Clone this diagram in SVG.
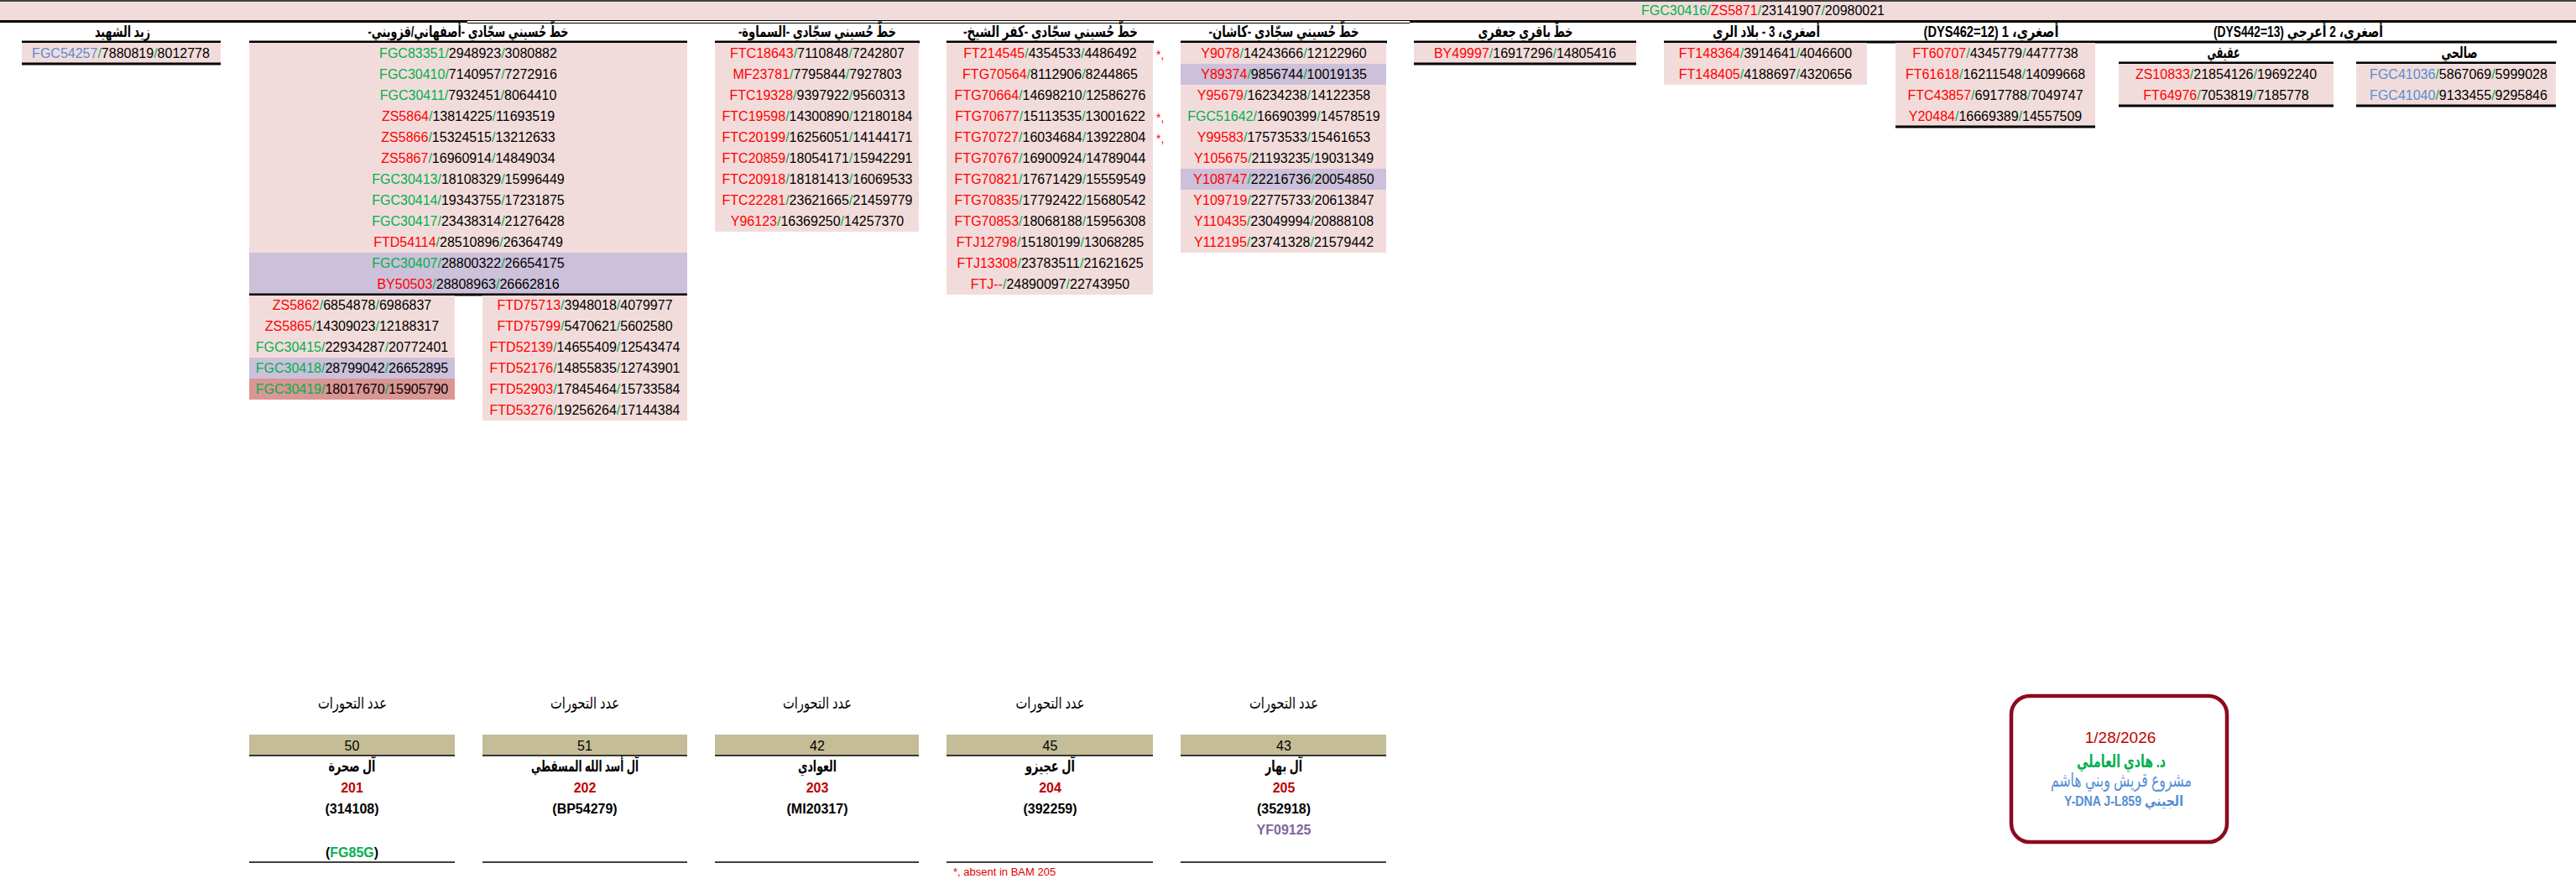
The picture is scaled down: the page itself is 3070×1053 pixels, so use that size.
<svg xmlns="http://www.w3.org/2000/svg" width="3070" height="1053" viewBox="0 0 3070 1053">
<style>
.bg{fill:#ffffff}
.pk{fill:#F2DCDB}
.pu{fill:#CCC0DA}
.sa{fill:#DA9694}
.tan{fill:#C4BD97}
.ln{stroke:#000;stroke-width:3;fill:none}
.tl{stroke:#000;stroke-width:1.5;fill:none}
.d{font-family:"Liberation Sans",Arial,sans-serif;font-size:16px;text-anchor:middle;fill:#000}
.g{fill:#00B050}
.r{fill:#FF0000}
.b{fill:#558ED5}
.h{font-family:"Liberation Sans","DejaVu Sans",sans-serif;font-size:19px;font-weight:bold;text-anchor:middle;fill:#000;direction:rtl}
.ar{font-family:"Liberation Sans","DejaVu Sans",sans-serif;font-size:19px;text-anchor:middle;fill:#000;direction:rtl}
.bd{font-family:"Liberation Sans","DejaVu Sans",sans-serif;font-size:16px;font-weight:bold;text-anchor:middle;fill:#000}
.dr{fill:#C00000}
.ast{font-family:"Liberation Sans",Arial,sans-serif;font-size:14px;fill:#FF0000}
</style>
<rect class="bg" x="0" y="0" width="3070" height="1053"/>

<g id="banner">
<line class="tl" x1="0" y1="1" x2="3070" y2="1"/>
<rect class="pk" x="0" y="2" width="3070" height="22"/>
<line class="ln" x1="0" y1="25.5" x2="557" y2="25.5"/>
<line stroke="#000" stroke-width="1.2" x1="557" y1="24.5" x2="1680" y2="24.5"/>
<line stroke="#000" stroke-width="1.2" x1="557" y1="27.5" x2="1680" y2="27.5"/>
<line class="ln" x1="1680" y1="25.5" x2="3070" y2="25.5"/>
<text class="d" x="2101" y="18"><tspan class="g">FGC30416</tspan><tspan class="g">/</tspan><tspan class="r">ZS5871</tspan><tspan class="g">/</tspan>23141907<tspan class="g">/</tspan>20980021</text>
</g>

<g id="zaid">
<text class="h" x="146" y="44" textLength="66" lengthAdjust="spacingAndGlyphs">زيد الشهيد</text>
<line class="ln" x1="26" y1="50" x2="263" y2="50"/>
<rect class="pk" x="26" y="51" width="237" height="25"/>
<line class="ln" x1="26" y1="76" x2="263" y2="76"/>
<text class="d" x="144" y="69"><tspan class="b">FGC54257</tspan><tspan class="g">/</tspan>7880819<tspan class="g">/</tspan>8012778</text>
</g>

<g id="isfahani">
<text class="h" x="558" y="44" textLength="239" lengthAdjust="spacingAndGlyphs">خطّ حُسيني سجّادي -أصفهاني/قزويني-</text>
<line class="ln" x1="297" y1="50" x2="819" y2="50"/>
<rect class="pk" x="297" y="51" width="522" height="250"/>
<rect class="pu" x="297" y="301" width="522" height="50"/>
<text class="d" x="558" y="69"><tspan class="g">FGC83351</tspan><tspan class="g">/</tspan>2948923<tspan class="g">/</tspan>3080882</text>
<text class="d" x="558" y="94"><tspan class="g">FGC30410</tspan><tspan class="g">/</tspan>7140957<tspan class="g">/</tspan>7272916</text>
<text class="d" x="558" y="119"><tspan class="g">FGC30411</tspan><tspan class="g">/</tspan>7932451<tspan class="g">/</tspan>8064410</text>
<text class="d" x="558" y="144"><tspan class="r">ZS5864</tspan><tspan class="g">/</tspan>13814225<tspan class="g">/</tspan>11693519</text>
<text class="d" x="558" y="169"><tspan class="r">ZS5866</tspan><tspan class="g">/</tspan>15324515<tspan class="g">/</tspan>13212633</text>
<text class="d" x="558" y="194"><tspan class="r">ZS5867</tspan><tspan class="g">/</tspan>16960914<tspan class="g">/</tspan>14849034</text>
<text class="d" x="558" y="219"><tspan class="g">FGC30413</tspan><tspan class="g">/</tspan>18108329<tspan class="g">/</tspan>15996449</text>
<text class="d" x="558" y="244"><tspan class="g">FGC30414</tspan><tspan class="g">/</tspan>19343755<tspan class="g">/</tspan>17231875</text>
<text class="d" x="558" y="269"><tspan class="g">FGC30417</tspan><tspan class="g">/</tspan>23438314<tspan class="g">/</tspan>21276428</text>
<text class="d" x="558" y="294"><tspan class="r">FTD54114</tspan><tspan class="g">/</tspan>28510896<tspan class="g">/</tspan>26364749</text>
<text class="d" x="558" y="319"><tspan class="g">FGC30407</tspan><tspan class="g">/</tspan>28800322<tspan class="g">/</tspan>26654175</text>
<text class="d" x="558" y="344"><tspan class="r">BY50503</tspan><tspan class="g">/</tspan>28808963<tspan class="g">/</tspan>26662816</text>
<line class="ln" x1="297" y1="351" x2="819" y2="351"/>
<rect class="pk" x="297" y="352" width="245" height="74"/>
<rect class="pu" x="297" y="426" width="245" height="25"/>
<rect class="sa" x="297" y="451" width="245" height="25"/>
<text class="d" x="419.5" y="369"><tspan class="r">ZS5862</tspan><tspan class="g">/</tspan>6854878<tspan class="g">/</tspan>6986837</text>
<text class="d" x="419.5" y="394"><tspan class="r">ZS5865</tspan><tspan class="g">/</tspan>14309023<tspan class="g">/</tspan>12188317</text>
<text class="d" x="419.5" y="419"><tspan class="g">FGC30415</tspan><tspan class="g">/</tspan>22934287<tspan class="g">/</tspan>20772401</text>
<text class="d" x="419.5" y="444"><tspan class="g">FGC30418</tspan><tspan class="g">/</tspan>28799042<tspan class="g">/</tspan>26652895</text>
<text class="d" x="419.5" y="469"><tspan class="g">FGC30419</tspan><tspan class="g">/</tspan>18017670<tspan class="g">/</tspan>15905790</text>
<rect class="pk" x="575" y="352" width="244" height="149"/>
<text class="d" x="697" y="369"><tspan class="r">FTD75713</tspan><tspan class="g">/</tspan>3948018<tspan class="g">/</tspan>4079977</text>
<text class="d" x="697" y="394"><tspan class="r">FTD75799</tspan><tspan class="g">/</tspan>5470621<tspan class="g">/</tspan>5602580</text>
<text class="d" x="697" y="419"><tspan class="r">FTD52139</tspan><tspan class="g">/</tspan>14655409<tspan class="g">/</tspan>12543474</text>
<text class="d" x="697" y="444"><tspan class="r">FTD52176</tspan><tspan class="g">/</tspan>14855835<tspan class="g">/</tspan>12743901</text>
<text class="d" x="697" y="469"><tspan class="r">FTD52903</tspan><tspan class="g">/</tspan>17845464<tspan class="g">/</tspan>15733584</text>
<text class="d" x="697" y="494"><tspan class="r">FTD53276</tspan><tspan class="g">/</tspan>19256264<tspan class="g">/</tspan>17144384</text>
</g>

<g id="samawa">
<text class="h" x="974" y="44" textLength="188" lengthAdjust="spacingAndGlyphs">خطّ حُسيني سجّادي -السماوة-</text>
<line class="ln" x1="852" y1="50" x2="1096" y2="50"/>
<rect class="pk" x="852" y="51" width="243" height="225"/>
<text class="d" x="974" y="69"><tspan class="r">FTC18643</tspan><tspan class="g">/</tspan>7110848<tspan class="g">/</tspan>7242807</text>
<text class="d" x="974" y="94"><tspan class="r">MF23781</tspan><tspan class="g">/</tspan>7795844<tspan class="g">/</tspan>7927803</text>
<text class="d" x="974" y="119"><tspan class="r">FTC19328</tspan><tspan class="g">/</tspan>9397922<tspan class="g">/</tspan>9560313</text>
<text class="d" x="974" y="144"><tspan class="r">FTC19598</tspan><tspan class="g">/</tspan>14300890<tspan class="g">/</tspan>12180184</text>
<text class="d" x="974" y="169"><tspan class="r">FTC20199</tspan><tspan class="g">/</tspan>16256051<tspan class="g">/</tspan>14144171</text>
<text class="d" x="974" y="194"><tspan class="r">FTC20859</tspan><tspan class="g">/</tspan>18054171<tspan class="g">/</tspan>15942291</text>
<text class="d" x="974" y="219"><tspan class="r">FTC20918</tspan><tspan class="g">/</tspan>18181413<tspan class="g">/</tspan>16069533</text>
<text class="d" x="974" y="244"><tspan class="r">FTC22281</tspan><tspan class="g">/</tspan>23621665<tspan class="g">/</tspan>21459779</text>
<text class="d" x="974" y="269"><tspan class="r">Y96123</tspan><tspan class="g">/</tspan>16369250<tspan class="g">/</tspan>14257370</text>
</g>

<g id="kafr">
<text class="h" x="1252" y="44" textLength="208" lengthAdjust="spacingAndGlyphs">خطّ حُسيني سجّادي -كفر الشيخ-</text>
<line class="ln" x1="1128" y1="50" x2="1375" y2="50"/>
<rect class="pk" x="1128" y="51" width="246" height="300"/>
<text class="d" x="1251.5" y="69"><tspan class="r">FT214545</tspan><tspan class="g">/</tspan>4354533<tspan class="g">/</tspan>4486492</text>
<text class="d" x="1251.5" y="94"><tspan class="r">FTG70564</tspan><tspan class="g">/</tspan>8112906<tspan class="g">/</tspan>8244865</text>
<text class="d" x="1251.5" y="119"><tspan class="r">FTG70664</tspan><tspan class="g">/</tspan>14698210<tspan class="g">/</tspan>12586276</text>
<text class="d" x="1251.5" y="144"><tspan class="r">FTG70677</tspan><tspan class="g">/</tspan>15113535<tspan class="g">/</tspan>13001622</text>
<text class="d" x="1251.5" y="169"><tspan class="r">FTG70727</tspan><tspan class="g">/</tspan>16034684<tspan class="g">/</tspan>13922804</text>
<text class="d" x="1251.5" y="194"><tspan class="r">FTG70767</tspan><tspan class="g">/</tspan>16900924<tspan class="g">/</tspan>14789044</text>
<text class="d" x="1251.5" y="219"><tspan class="r">FTG70821</tspan><tspan class="g">/</tspan>17671429<tspan class="g">/</tspan>15559549</text>
<text class="d" x="1251.5" y="244"><tspan class="r">FTG70835</tspan><tspan class="g">/</tspan>17792422<tspan class="g">/</tspan>15680542</text>
<text class="d" x="1251.5" y="269"><tspan class="r">FTG70853</tspan><tspan class="g">/</tspan>18068188<tspan class="g">/</tspan>15956308</text>
<text class="d" x="1251.5" y="294"><tspan class="r">FTJ12798</tspan><tspan class="g">/</tspan>15180199<tspan class="g">/</tspan>13068285</text>
<text class="d" x="1251.5" y="319"><tspan class="r">FTJ13308</tspan><tspan class="g">/</tspan>23783511<tspan class="g">/</tspan>21621625</text>
<text class="d" x="1251.5" y="344"><tspan class="r">FTJ--</tspan><tspan class="g">/</tspan>24890097<tspan class="g">/</tspan>22743950</text>
<text class="ast" x="1378" y="70">*,</text>
<text class="ast" x="1378" y="145">*,</text>
<text class="ast" x="1378" y="170">*,</text>
</g>

<g id="kashan">
<text class="h" x="1530" y="44" textLength="179" lengthAdjust="spacingAndGlyphs">خطّ حُسيني سجّادي -كاشان-</text>
<line class="ln" x1="1407" y1="50" x2="1653" y2="50"/>
<rect class="pk" x="1407" y="51" width="245" height="250"/>
<rect class="pu" x="1407" y="76" width="245" height="25"/>
<rect class="pu" x="1407" y="201" width="245" height="25"/>
<text class="d" x="1530" y="69"><tspan class="r">Y9078</tspan><tspan class="g">/</tspan>14243666<tspan class="g">/</tspan>12122960</text>
<text class="d" x="1530" y="94"><tspan class="r">Y89374</tspan><tspan class="g">/</tspan>9856744<tspan class="g">/</tspan>10019135</text>
<text class="d" x="1530" y="119"><tspan class="r">Y95679</tspan><tspan class="g">/</tspan>16234238<tspan class="g">/</tspan>14122358</text>
<text class="d" x="1530" y="144"><tspan class="g">FGC51642</tspan><tspan class="g">/</tspan>16690399<tspan class="g">/</tspan>14578519</text>
<text class="d" x="1530" y="169"><tspan class="r">Y99583</tspan><tspan class="g">/</tspan>17573533<tspan class="g">/</tspan>15461653</text>
<text class="d" x="1530" y="194"><tspan class="r">Y105675</tspan><tspan class="g">/</tspan>21193235<tspan class="g">/</tspan>19031349</text>
<text class="d" x="1530" y="219"><tspan class="r">Y108747</tspan><tspan class="g">/</tspan>22216736<tspan class="g">/</tspan>20054850</text>
<text class="d" x="1530" y="244"><tspan class="r">Y109719</tspan><tspan class="g">/</tspan>22775733<tspan class="g">/</tspan>20613847</text>
<text class="d" x="1530" y="269"><tspan class="r">Y110435</tspan><tspan class="g">/</tspan>23049994<tspan class="g">/</tspan>20888108</text>
<text class="d" x="1530" y="294"><tspan class="r">Y112195</tspan><tspan class="g">/</tspan>23741328<tspan class="g">/</tspan>21579442</text>
</g>

<g id="baqiri">
<text class="h" x="1818" y="44" textLength="113" lengthAdjust="spacingAndGlyphs">خطّ باقري جعفري</text>
<line class="ln" x1="1685" y1="50" x2="1950" y2="50"/>
<rect class="pk" x="1685" y="51" width="265" height="25"/>
<line class="ln" x1="1685" y1="76" x2="1950" y2="76"/>
<text class="d" x="1817.5" y="69"><tspan class="r">BY49997</tspan><tspan class="g">/</tspan>16917296<tspan class="g">/</tspan>14805416</text>
</g>

<g id="asghari3">
<text class="h" x="2105" y="44" textLength="128" lengthAdjust="spacingAndGlyphs">أصغري، 3 - بلاد الري</text>
<line class="ln" x1="1983" y1="50" x2="2225" y2="50"/>
<rect class="pk" x="1983" y="51" width="242" height="50"/>
<text class="d" x="2104" y="69"><tspan class="r">FT148364</tspan><tspan class="g">/</tspan>3914641<tspan class="g">/</tspan>4046600</text>
<text class="d" x="2104" y="94"><tspan class="r">FT148405</tspan><tspan class="g">/</tspan>4188697<tspan class="g">/</tspan>4320656</text>
</g>

<g id="asghari1">
<text class="h" x="2373" y="44" textLength="161" lengthAdjust="spacingAndGlyphs">أصغري، 1 &#x200E;(DYS462=12)&#x200E;</text>
<line class="ln" x1="2225" y1="50" x2="2497" y2="50"/>
<rect class="pk" x="2259" y="51" width="238" height="100"/>
<line class="ln" x1="2259" y1="151" x2="2497" y2="151"/>
<text class="d" x="2378" y="69"><tspan class="r">FT60707</tspan><tspan class="g">/</tspan>4345779<tspan class="g">/</tspan>4477738</text>
<text class="d" x="2378" y="94"><tspan class="r">FT61618</tspan><tspan class="g">/</tspan>16211548<tspan class="g">/</tspan>14099668</text>
<text class="d" x="2378" y="119"><tspan class="r">FTC43857</tspan><tspan class="g">/</tspan>6917788<tspan class="g">/</tspan>7049747</text>
<text class="d" x="2378" y="144"><tspan class="r">Y20484</tspan><tspan class="g">/</tspan>16669389<tspan class="g">/</tspan>14557509</text>
</g>

<g id="asghari2">
<text class="h" x="2739" y="44" textLength="202" lengthAdjust="spacingAndGlyphs">أصغري، 2 أعرجي &#x200E;(DYS442=13)&#x200E;</text>
<line class="ln" x1="2497" y1="50" x2="3047" y2="50"/>
</g>

<g id="aqiqi">
<text class="h" x="2650" y="69" textLength="39" lengthAdjust="spacingAndGlyphs">عقيقي</text>
<line class="ln" x1="2525" y1="75" x2="2781" y2="75"/>
<rect class="pk" x="2525" y="76" width="256" height="50"/>
<line class="ln" x1="2525" y1="126" x2="2781" y2="126"/>
<text class="d" x="2653" y="94"><tspan class="r">ZS10833</tspan><tspan class="g">/</tspan>21854126<tspan class="g">/</tspan>19692240</text>
<text class="d" x="2653" y="119"><tspan class="r">FT64976</tspan><tspan class="g">/</tspan>7053819<tspan class="g">/</tspan>7185778</text>
</g>

<g id="salihi">
<text class="h" x="2931" y="69" textLength="43" lengthAdjust="spacingAndGlyphs">صالحي</text>
<line class="ln" x1="2808" y1="75" x2="3046" y2="75"/>
<rect class="pk" x="2808" y="76" width="238" height="50"/>
<line class="ln" x1="2808" y1="126" x2="3046" y2="126"/>
<text class="d" x="2930" y="94"><tspan class="b">FGC41036</tspan><tspan class="g">/</tspan>5867069<tspan class="g">/</tspan>5999028</text>
<text class="d" x="2930" y="119"><tspan class="b">FGC41040</tspan><tspan class="g">/</tspan>9133455<tspan class="g">/</tspan>9295846</text>
</g>

<g id="bam201">
<text class="ar" x="420" y="844" textLength="82" lengthAdjust="spacingAndGlyphs">عدد التحورات</text>
<rect class="tan" x="297" y="875" width="245" height="25"/>
<line class="tl" x1="297" y1="900" x2="542" y2="900"/>
<text class="d" x="419.5" y="894">50</text>
<text class="h" x="419.5" y="919" textLength="56" lengthAdjust="spacingAndGlyphs">آل صحرة</text>
<text class="bd dr" x="419.5" y="944">201</text>
<text class="bd" x="419.5" y="969">(314108)</text>
<text class="bd" x="419.5" y="1021">(<tspan class="g">FG85G</tspan>)</text>
<line class="tl" x1="297" y1="1027" x2="542" y2="1027"/>
</g>

<g id="bam202">
<text class="ar" x="697" y="844" textLength="82" lengthAdjust="spacingAndGlyphs">عدد التحورات</text>
<rect class="tan" x="575" y="875" width="244" height="25"/>
<line class="tl" x1="575" y1="900" x2="819" y2="900"/>
<text class="d" x="697" y="894">51</text>
<text class="h" x="697" y="919" textLength="128" lengthAdjust="spacingAndGlyphs">آل أسد الله المسقطي</text>
<text class="bd dr" x="697" y="944">202</text>
<text class="bd" x="697" y="969">(BP54279)</text>
<line class="tl" x1="575" y1="1027" x2="819" y2="1027"/>
</g>

<g id="bam203">
<text class="ar" x="974" y="844" textLength="82" lengthAdjust="spacingAndGlyphs">عدد التحورات</text>
<rect class="tan" x="852" y="875" width="243" height="25"/>
<line class="tl" x1="852" y1="900" x2="1095" y2="900"/>
<text class="d" x="974" y="894">42</text>
<text class="h" x="974" y="919" textLength="46" lengthAdjust="spacingAndGlyphs">العوادي</text>
<text class="bd dr" x="974" y="944">203</text>
<text class="bd" x="974" y="969">(MI20317)</text>
<line class="tl" x1="852" y1="1027" x2="1095" y2="1027"/>
</g>

<g id="bam204">
<text class="ar" x="1251.5" y="844" textLength="82" lengthAdjust="spacingAndGlyphs">عدد التحورات</text>
<rect class="tan" x="1128" y="875" width="246" height="25"/>
<line class="tl" x1="1128" y1="900" x2="1374" y2="900"/>
<text class="d" x="1251.5" y="894">45</text>
<text class="h" x="1251.5" y="919" textLength="59" lengthAdjust="spacingAndGlyphs">آل عجيزو</text>
<text class="bd dr" x="1251.5" y="944">204</text>
<text class="bd" x="1251.5" y="969">(392259)</text>
<line class="tl" x1="1128" y1="1027" x2="1374" y2="1027"/>
<text x="1136" y="1043" font-family="Liberation Sans, Arial, sans-serif" font-size="13" fill="#E00000">*, absent in BAM 205</text>
</g>

<g id="bam205">
<text class="ar" x="1530" y="844" textLength="82" lengthAdjust="spacingAndGlyphs">عدد التحورات</text>
<rect class="tan" x="1407" y="875" width="245" height="25"/>
<line class="tl" x1="1407" y1="900" x2="1652" y2="900"/>
<text class="d" x="1530" y="894">43</text>
<text class="h" x="1530" y="919" textLength="44" lengthAdjust="spacingAndGlyphs">آل بهار</text>
<text class="bd dr" x="1530" y="944">205</text>
<text class="bd" x="1530" y="969">(352918)</text>
<text class="bd" x="1530" y="994" style="fill:#8064A2">YF09125</text>
<line class="tl" x1="1407" y1="1027" x2="1652" y2="1027"/>
</g>

<g id="credit">
<rect x="2397" y="829" width="257" height="174" rx="22" ry="22" fill="#ffffff" stroke="#8B0A1F" stroke-width="4.5"/>
<text x="2527" y="885" font-family="Liberation Sans, Arial, sans-serif" font-size="19" text-anchor="middle" fill="#C00000">1/28/2026</text>
<text class="h" x="2528" y="914" textLength="106" lengthAdjust="spacingAndGlyphs" style="fill:#00B050;font-size:21px">د. هادي العاملي</text>
<text class="ar" x="2528" y="937" textLength="168" lengthAdjust="spacingAndGlyphs" style="fill:#558ED5;font-size:23px">مشروع قريش وبني هاشم</text>
<text class="h" x="2531" y="960" textLength="142" lengthAdjust="spacingAndGlyphs" style="fill:#558ED5;font-size:17px">الجيني Y-DNA J-L859</text>
</g>

<g id="connectors"></g>
</svg>
